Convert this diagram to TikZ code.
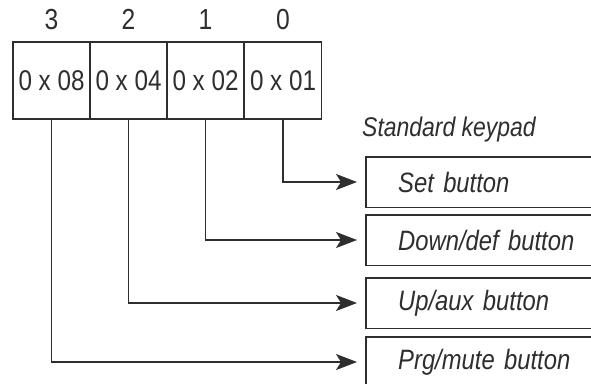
\documentclass[tikz,border=0pt]{standalone}
\usepackage{fontspec}
\usetikzlibrary{arrows.meta}
\newfontfamily\cellfont[FakeStretch=0.85]{Liberation Sans}
\newfontfamily\btnfont[FakeStretch=0.85]{Liberation Sans}
\definecolor{ink}{HTML}{2E2E2E}
\tikzset{
  cell/.style={draw=ink, line width=1.4pt, minimum width=77pt, minimum height=77pt, inner sep=0pt,
    font=\cellfont\fontsize{28.5}{30}\selectfont, text=ink},
  bitlbl/.style={font=\cellfont\fontsize{29}{30}\selectfont, text=ink, inner sep=0pt},
  btn/.style={anchor=west, minimum height=50pt, text width=260pt,
    inner xsep=32pt, align=left, font=\btnfont\itshape\fontsize{28}{30}\selectfont, text=ink},
  btnedge/.style={draw=ink, line width=1.4pt},
  conn/.style={draw=ink, line width=1.4pt, -{Stealth[length=21pt,width=16pt,inset=5pt]}},
  hdr/.style={font=\btnfont\itshape\fontsize{27}{29}\selectfont, text=ink, anchor=west, inner sep=0pt}
}
\begin{document}
\begin{tikzpicture}[x=1pt,y=-1pt]
\useasboundingbox (0,0) rectangle (591,383);
\clip (0,0) rectangle (591,383);
\fill[white] (0,0) rectangle (591,383);
\node[cell] (c3) at (51.5,80.5) {0 x 08};
\node[cell] (c2) at (128.5,80.5) {0 x 04};
\node[cell] (c1) at (205.5,80.5) {0 x 02};
\node[cell] (c0) at (283,80.5) {0 x 01};
\node[bitlbl] (l3) at (51.5,19.5) {3};
\node[bitlbl] (l2) at (128.5,19.5) {2};
\node[bitlbl] (l1) at (205.5,19.5) {1};
\node[bitlbl] (l0) at (283,19.5) {0};
\node[hdr] (kp) at (362,130) {Standard keypad};
\node[btn] (b0) at (366,182) {Set button};
\node[btn] (b1) at (366,240) {Down/def button};
\node[btn] (b2) at (366,303) {Up/aux button};
\node[btn] (b3) at (366,362) {Prg/mute button};
\foreach \b in {b0,b1,b2,b3}
  \draw[btnedge] (\b.north east) -- (\b.north west) -- (\b.south west) -- (\b.south east);
\draw[conn] (c0.south) |- ([xshift=-9pt]b0.west);
\draw[conn] (c1.south) |- ([xshift=-9pt]b1.west);
\draw[conn] (c2.south) |- ([xshift=-9pt]b2.west);
\draw[conn] (c3.south) |- ([xshift=-9pt]b3.west);
\end{tikzpicture}
\end{document}
